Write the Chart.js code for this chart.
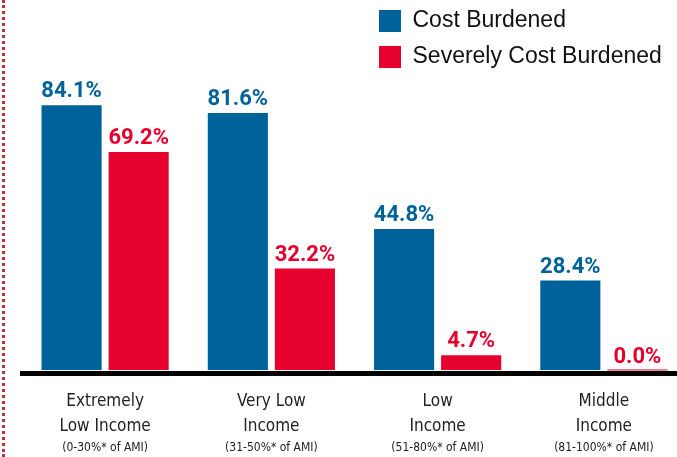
<!DOCTYPE html>
<html><head><meta charset="utf-8">
<script src="https://cdn.jsdelivr.net/npm/chart.js@4.4.0/dist/chart.umd.min.js"></script>
<style>
html,body{margin:0;padding:0;background:#fff;overflow:hidden;}
#wrap{position:relative;width:677px;height:457px;overflow:hidden;background:#fff;}
#box{position:absolute;left:0;top:0;width:687px;height:457px;}
#dots{position:absolute;left:2px;top:0;height:457px;border-left:3px dotted #b8323f;}
</style></head><body>
<div id="wrap"><div id="box"><canvas id="c" width="687" height="457"></canvas></div><div id="dots"></div></div>
<script>
// ---- data ----
const categories = [["Extremely", "Low Income"], ["Very Low", "Income"], ["Low", "Income"], ["Middle", "Income"]];
const amiRanges = ["(0-30%* of AMI)", "(31-50%* of AMI)", "(51-80%* of AMI)", "(81-100%* of AMI)"];
const seriesNames = ["Cost Burdened", "Severely Cost Burdened"];
const costBurdened = [84.1, 81.6, 44.8, 28.4];
const severelyCostBurdened = [69.2, 32.2, 4.7, 0.0];

// ---- styles ----
const BLUE = '#00629b';
const RED = '#e6002d';
const COND = '"DejaVu Sans Condensed", "Liberation Sans", sans-serif';
const LEGEND_X = 366, LEGEND_Y = -3.5;

const valueLabels = {
  id: 'valueLabels',
  afterDatasetsDraw(chart) {
    const ctx = chart.ctx;
    ctx.save();
    ctx.font = 'bold 22px Roboto, "Liberation Sans", sans-serif';
    ctx.textAlign = 'center';
    ctx.textBaseline = 'alphabetic';
    chart.data.datasets.forEach((ds, i) => {
      const meta = chart.getDatasetMeta(i);
      ctx.fillStyle = ds.backgroundColor;
      meta.data.forEach((bar, j) => {
        ctx.fillText(ds.data[j].toFixed(1) + '%', bar.x, bar.y - 8);
      });
    });
    ctx.restore();
  }
};

const legendPlace = {
  id: 'legendPlace',
  afterLayout(chart) {
    const lg = chart.legend;
    if (!lg) return;
    lg.left = LEGEND_X; lg.top = LEGEND_Y;
    lg.right = lg.left + lg.width; lg.bottom = lg.top + 200;
  }
};

new Chart(document.getElementById('c'), {
  type: 'bar',
  data: {
    labels: categories,
    datasets: [
      { label: seriesNames[0], data: costBurdened, backgroundColor: BLUE },
      { label: seriesNames[1], data: severelyCostBurdened, backgroundColor: RED, minBarLength: 1 }
    ]
  },
  options: {
    responsive: false,
    devicePixelRatio: 1,
    animation: false,
    categoryPercentage: 0.807,
    barPercentage: 0.896,
    layout: { padding: { left: 22, right: 0, top: 0, bottom: 0 } },
    plugins: {
      tooltip: { enabled: false },
      legend: {
        position: 'chartArea',
        align: 'start',
        labels: {
          boxWidth: 22, boxHeight: 22, padding: 13, color: '#111',
          font: { family: '"Liberation Sans", sans-serif', size: 23 }
        }
      }
    },
    scales: {
      x: {
        offset: true,
        grid: { display: false, drawTicks: false, tickLength: 0 },
        border: { display: true, color: '#000', width: 5 },
        ticks: { color: '#222', padding: 16, maxRotation: 0, autoSkip: false,
                 font: { family: COND, size: 17, lineHeight: '25px' } },
        afterFit(s) { s.height = 64; }
      },
      x2: {
        type: 'category', labels: amiRanges, position: 'bottom', offset: true,
        grid: { display: false, drawTicks: false, tickLength: 0 },
        border: { display: false },
        ticks: { color: '#222', padding: 3, maxRotation: 0, autoSkip: false,
                 font: { family: COND, size: 12, lineHeight: '15px' } },
        afterFit(s) { s.height = 20; }
      },
      y: { display: false, min: -0.95, max: 117.5 }
    }
  },
  plugins: [valueLabels, legendPlace]
});
</script>
</body></html>
